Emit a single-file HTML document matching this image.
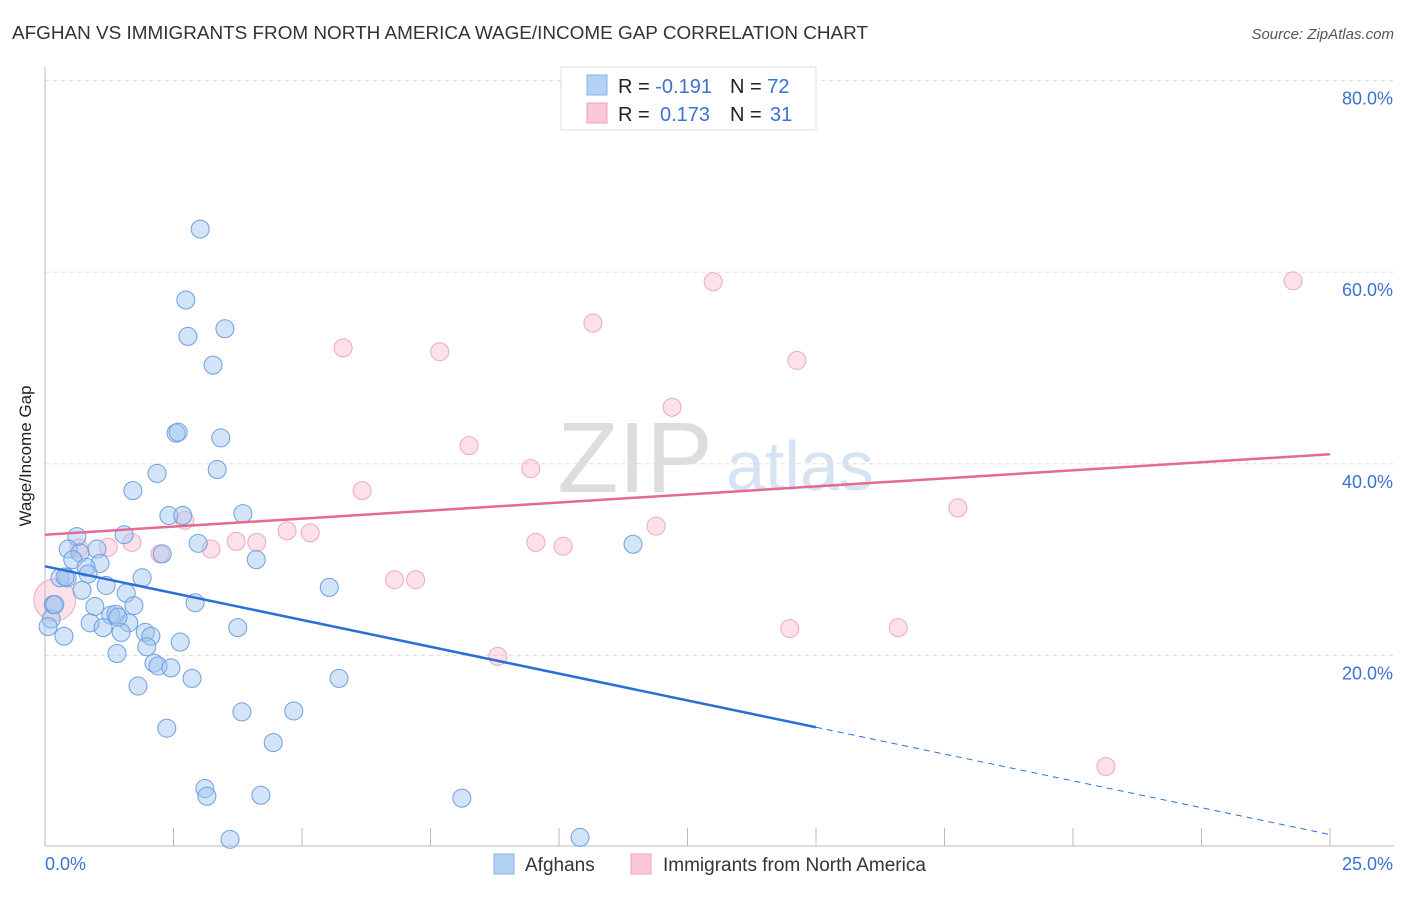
<!DOCTYPE html>
<html><head><meta charset="utf-8"><style>
body{margin:0;background:#fff;font-family:"Liberation Sans",sans-serif;}
svg text{font-family:"Liberation Sans",sans-serif;}
</style></head><body>
<svg id="chart" width="1406" height="892">
<text x="12" y="39" font-size="18" fill="#333" textLength="856" lengthAdjust="spacingAndGlyphs">AFGHAN VS IMMIGRANTS FROM NORTH AMERICA WAGE/INCOME GAP CORRELATION CHART</text>
<text x="1394" y="39" font-size="15" fill="#555" font-style="italic" text-anchor="end">Source: ZipAtlas.com</text>
<text x="31" y="456" font-size="17" fill="#222" text-anchor="middle" transform="rotate(-90 31 456)">Wage/Income Gap</text>
<text x="635" y="492" font-size="100" fill="#ddd" font-family="Liberation Serif" text-anchor="middle">ZIP</text>
<text x="800" y="490" font-size="70" fill="#d5e3f3" text-anchor="middle">atlas</text>
<g id="grid"></g><g id="pts"></g><g id="lines"></g>
<g>
<rect x="561" y="67" width="255" height="63" fill="#fff" stroke="#ddd"/>
<rect x="587" y="75" width="20" height="20" fill="#b5d0f5" stroke="#8ab0e8"/>
<rect x="587" y="103" width="20" height="20" fill="#f9c8d6" stroke="#f0a0b8"/>
<text x="618" y="93" font-size="20" fill="#222">R = <tspan fill="#3a72d0">-0.191</tspan><tspan x="730">N = </tspan><tspan fill="#3a72d0">72</tspan></text>
<text x="618" y="121" font-size="20" fill="#222">R = <tspan x="660" fill="#3a72d0">0.173</tspan><tspan x="730">N = </tspan><tspan x="770" fill="#3a72d0">31</tspan></text>
</g>
<g>
<rect x="494" y="854" width="20" height="20" fill="#b5d0f5" stroke="#8ab0e8"/>
<text x="525" y="871" font-size="19" fill="#333">Afghans</text>
<rect x="631" y="854" width="20" height="20" fill="#f9c8d6" stroke="#f0a0b8"/>
<text x="663" y="871" font-size="19" fill="#333">Immigrants from North America</text>
</g>
</svg>
<script>
const blueX=[3.02,2.74,2.78,3.50,3.27,2.55,2.59,3.42,2.18,3.35,1.71,2.41,2.68,3.85,1.54,0.62,2.98,2.28,0.45,1.01,0.68,0.54,4.11,1.07,0.80,11.44,0.84,0.29,0.43,1.89,1.19,0.72,1.58,5.53,0.16,0.97,1.73,2.92,0.12,1.28,1.38,0.88,1.63,0.06,1.13,1.48,3.75,0.37,1.95,2.06,2.63,1.98,1.40,2.12,2.20,2.45,2.86,5.72,1.81,3.83,4.84,2.37,4.44,3.11,3.15,4.20,8.11,3.60,10.41,0.19,1.42,0.39];
const blueY=[64.5,57.1,53.3,54.1,50.3,43.2,43.3,42.7,39.0,39.4,37.2,34.6,34.6,34.8,32.6,32.4,31.7,30.6,31.1,31.1,30.7,30.0,30.0,29.6,29.2,31.6,28.5,28.1,28.1,28.1,27.3,26.8,26.5,27.1,25.3,25.1,25.2,25.5,23.8,24.2,24.3,23.4,23.4,23.0,22.9,22.4,22.9,22.0,22.4,22.0,21.4,20.9,20.2,19.2,18.9,18.7,17.6,17.6,16.8,14.1,14.2,12.4,10.9,6.1,5.3,5.4,5.1,0.8,1.0,25.3,24.0,28.2];
const pinkX=[24.28,13.0,10.66,5.80,7.68,14.63,12.2,8.25,9.45,6.17,17.76,2.72,11.89,4.71,5.16,3.72,4.12,9.55,10.08,1.69,1.23,3.23,2.24,0.66,6.80,7.21,14.49,16.60,8.81,20.64,0.19];
const pinkY=[59.1,59.0,54.7,52.1,51.7,50.8,45.9,41.9,39.5,37.2,35.4,34.1,33.5,33.0,32.8,31.9,31.8,31.8,31.4,31.8,31.3,31.1,30.6,31.2,27.9,27.9,22.8,22.9,19.9,8.4,25.8];
const yTicks=[20,40,60,80];
const xTickVals=[0,2.5,5,7.5,10,12.5,15,17.5,20,22.5,25];
const blueTrend=[29.3,-1.12];
const pinkTrend=[32.6,0.336];
const NS='http://www.w3.org/2000/svg';
const sx=v=>45+v/25*1285, sy=v=>847-v/20*191.6;
function mk(t,a,p){const e=document.createElementNS(NS,t);for(const k in a)e.setAttribute(k,a[k]);p.appendChild(e);return e;}
const g=document.getElementById('grid');
yTicks.forEach(v=>{
 const l=mk('line',{x1:45,x2:1394,y1:sy(v),y2:sy(v),stroke:'#ddd','stroke-dasharray':'4,4'},g);
 
 
 const t=mk('text',{x:1393,y:sy(v)+24,'font-size':18,fill:'#3a72d0','text-anchor':'end'},g);
 t.textContent=v.toFixed(1)+'%';
 
 
});
mk('line',{x1:45,x2:45,y1:67,y2:846,stroke:'#bbb'},g);
mk('line',{x1:45,x2:1394,y1:846,y2:846,stroke:'#bbb'},g);
xTickVals.forEach(v=>{
 const l=mk('line',{x1:sx(v),x2:sx(v),y1:828,y2:846,stroke:'#bbb'},g);
 
 
});
const t0=mk('text',{x:45,y:870,'font-size':18,fill:'#3a72d0'},g);t0.textContent='0.0%';


const t1=mk('text',{x:1393,y:870,'font-size':18,fill:'#3a72d0','text-anchor':'end'},g);t1.textContent='25.0%';


const p=document.getElementById('pts');
pinkX.forEach((x,i)=>{
 const c=mk('circle',{cx:sx(x),cy:sy(pinkY[i]),r:i==pinkX.length-1?21:9,fill:'rgba(248,180,200,0.4)',stroke:'#f0a8bf','stroke-width':1},p);
 
 
});
blueX.forEach((x,i)=>{
 const c=mk('circle',{cx:sx(x),cy:sy(blueY[i]),r:9,fill:'rgba(160,196,240,0.45)',stroke:'#6d9fe0','stroke-width':1},p);
 
 
});
const L=document.getElementById('lines');
const bf=x=>blueTrend[0]+blueTrend[1]*x, pf=x=>pinkTrend[0]+pinkTrend[1]*x;
const b1=mk('line',{x1:sx(0),y1:sy(bf(0)),x2:sx(15),y2:sy(bf(15)),stroke:'#2a6fd6','stroke-width':2.5},L);


const b2=mk('line',{x1:sx(15),y1:sy(bf(15)),x2:sx(25),y2:sy(bf(25)),stroke:'#2a6fd6','stroke-width':1,'stroke-dasharray':'6,5'},L);


const p1=mk('line',{x1:sx(0),y1:sy(pf(0)),x2:sx(25),y2:sy(pf(25)),stroke:'#e46a92','stroke-width':2.5},L);


</script>
</body></html>
